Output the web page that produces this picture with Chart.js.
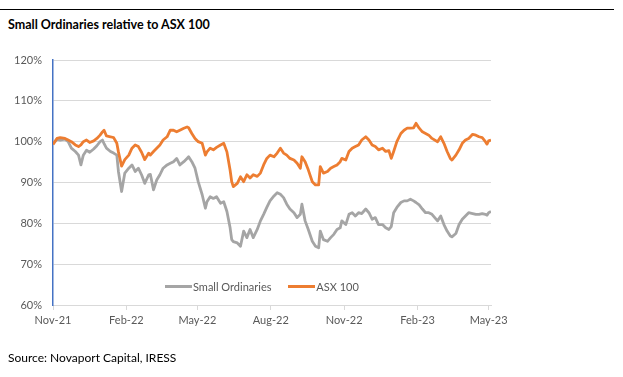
<!DOCTYPE html>
<html>
<head>
<meta charset="utf-8">
<title>Small Ordinaries relative to ASX 100</title>
<script src="https://cdn.jsdelivr.net/npm/chart.js@4.4.0/dist/chart.umd.min.js"></script>
<style>
  html, body { margin: 0; padding: 0; background: #fff; }
  body { width: 623px; height: 377px; position: relative; overflow: hidden; font-family: Lato, 'Open Sans', sans-serif; }
  #topRule { position: absolute; left: 0; top: 9px; width: 614px; height: 1px; background: #000; }
  #title { position: absolute; left: 8px; top: 17px; font-size: 12.5px; font-weight: bold; color: #000; white-space: nowrap; }
  #source { position: absolute; left: 8px; top: 350px; font-size: 12px; color: #000; white-space: nowrap; }
  #chart { position: absolute; left: 0; top: 0; }
  .legend { position: absolute; top: 277px; left: 165px; font-size: 11px; color: #595959; white-space: nowrap; }
  .legend span.item { display: inline-flex; align-items: center; margin-right: 14px; }
  .legend i { display: inline-block; width: 27px; height: 3px; margin-right: 1px; }
</style>
</head>
<body>
<div id="topRule"></div>
<div id="title">Small Ordinaries relative to ASX 100</div>
<canvas id="chart" width="623" height="377"></canvas>
<div class="legend" id="legend"></div>
<div id="source">Source: Novaport Capital, IRESS</div>

<script>
'use strict';
/* ============================================================
   Small Ordinaries vs ASX 100 — relative performance (Nov-21 = 100%)
   x = days since 1 Nov 2021
   ============================================================ */

const days = [
  0, 5, 9, 15, 19, 23, 28, 32, 35, 38,
  42, 46, 51, 55, 59, 62, 64, 67, 72, 76,
  80, 82, 86, 90, 95, 99, 103, 107, 111, 115,
  120, 122, 126, 130, 134, 138, 143, 147, 151, 155,
  159, 164, 168, 170, 174, 178, 182, 187, 191, 193,
  197, 201, 205, 210, 214, 218, 222, 224, 226, 231,
  235, 239, 243, 247, 251, 256, 260, 264, 268, 272,
  277, 281, 285, 289, 293, 297, 302, 306, 310, 312,
  316, 320, 325, 329, 333, 335, 339, 344, 348, 352,
  356, 360, 362, 367, 371, 375, 379, 383, 387, 392,
  396, 400, 404, 408, 413, 417, 421, 424, 427, 431,
  436, 440, 444, 448, 452, 455, 459, 463, 467, 471,
  475, 482, 486, 490, 494, 498, 500, 505, 509, 513,
  517, 521, 526, 530, 534, 538, 542, 544, 546, 549
];

const smallOrds = [
  99.5, 100.6, 100.4, 100.6, 100, 98.4, 97.6, 96.7, 94.3, 96.7,
  97.9, 97.4, 98.2, 99, 100, 100.4, 99.5, 98.4, 97.6, 97.2,
  96.7, 92.7, 87.8, 92.3, 93.5, 94.3, 92.7, 93.5, 91.9, 89.8,
  91.9, 92, 88.2, 90.6, 91.9, 93.5, 94.3, 94.7, 95.1, 95.9,
  94.3, 95.1, 95.9, 96.3, 95.1, 93.5, 90.2, 87, 83.7, 85.3,
  86.5, 86.1, 86.5, 84.9, 85.3, 82.9, 78.9, 76, 75.5, 75.2,
  74.4, 78.1, 76.5, 78.5, 76.5, 78.5, 80.6, 82.2, 83.9, 85.5,
  86.7, 87.5, 87.1, 86.3, 84.7, 83.5, 82.6, 81.4, 82.2, 84.7,
  80.6, 78.5, 75.6, 74.4, 74, 78.1, 76, 75.6, 76.5, 77.3,
  78.5, 78.9, 80.6, 79.7, 82.2, 82.6, 81.8, 82.6, 82.4, 83.5,
  82.6, 81, 81.4, 79.7, 79.7, 78.9, 78.5, 79.2, 82.6, 83.9,
  85.1, 85.5, 85.5, 85.9, 85.5, 85.1, 84.5, 83.5, 82.6, 82.6,
  82.2, 80.6, 81.8, 79.7, 78.1, 76.9, 76.7, 77.5, 79.7, 81,
  81.8, 82.6, 82.4, 82.2, 82.2, 82.4, 82.2, 82, 82.6, 82.9
];

const asx100 = [
  99.3, 100.8, 101, 100.8, 100.4, 100, 99.2, 98.8, 99.2, 100,
  100.4, 99.8, 100.2, 100.8, 101.6, 102.4, 102.8, 101.4, 101.2, 101,
  99.6, 97.5, 94, 95.6, 96.7, 98.4, 99.2, 98.8, 97.4, 95.6,
  97.2, 96.7, 97.6, 98.4, 99.2, 100.4, 101.2, 102.8, 102.8, 102.4,
  102.8, 103.3, 103.6, 103.4, 102, 100.8, 100, 99.6, 96.7, 97.5,
  98.4, 98, 98.6, 99.2, 99.6, 97.5, 93, 90.2, 89, 89.8,
  91.4, 90.2, 91.9, 91.1, 91.9, 91.5, 92.3, 94.3, 95.9, 96.7,
  96.3, 97.2, 98.4, 97.2, 96.7, 95.9, 95.5, 94.7, 93.5, 96.3,
  95.1, 93.1, 90.2, 89.4, 89.4, 93.9, 92.3, 92.7, 93.5, 93.9,
  94.3, 95.1, 95.9, 95.5, 97.6, 98.4, 98.8, 99.2, 100.4, 101.2,
  100.4, 99.2, 98.8, 98, 98.4, 97.6, 97.8, 95.9, 97.6, 100,
  102, 102.8, 103.3, 103.3, 103.4, 104.5, 103.3, 102.4, 102, 101.6,
  100.8, 100, 101.2, 99.6, 97.6, 95.9, 95.5, 96.7, 98, 99.6,
  100.4, 100.8, 101.8, 101.6, 101.2, 101, 100, 99.4, 100.2, 100.4
];

// quarterly ticks (days since 1 Nov 2021)
const tickDays   = [0, 92, 181, 273, 365, 457, 546];
const tickLabels = ['Nov-21', 'Feb-22', 'May-22', 'Aug-22', 'Nov-22', 'Feb-23', 'May-23'];

const yTicks = [60, 70, 80, 90, 100, 110, 120];

const SERIES = [
  { label: 'Small Ordinaries', data: smallOrds, color: '#A5A5A5', order: 2 },
  { label: 'ASX 100',          data: asx100,    color: '#ED7D31', order: 1 }
];

const TICK_FONT = { family: 'Lato', size: 11 };
const TICK_COLOR = '#595959';

// ── Legend (inside plot area, like Excel) ───────────────────
document.getElementById('legend').innerHTML = SERIES.map(s => `
  <span class="item"><i style="background:${s.color}"></i>${s.label}</span>
`).join('');

// ── Chart ───────────────────────────────────────────────────
new Chart(document.getElementById('chart').getContext('2d'), {
  type: 'line',
  data: {
    datasets: SERIES.map(s => ({
      label: s.label,
      data: days.map((d, i) => ({ x: d, y: s.data[i] })),
      borderColor: s.color,
      backgroundColor: s.color,
      borderWidth: 2.8,
      pointRadius: 0,
      tension: 0,
      borderJoinStyle: 'round',
      order: s.order
    }))
  },
  options: {
    responsive: false,
    animation: false,
    devicePixelRatio: 1,
    layout: { padding: { top: 60, right: 132, bottom: 0, left: 0 } },
    plugins: { legend: { display: false }, tooltip: { enabled: false } },
    scales: {
      x: {
        type: 'linear',
        min: 0,
        max: 549,
        afterBuildTicks: axis => { axis.ticks = tickDays.map(v => ({ value: v })); },
        afterFit: axis => { axis.height = 72; },
        ticks: {
          autoSkip: false,
          maxRotation: 0,
          padding: 4,
          color: TICK_COLOR,
          font: TICK_FONT,
          callback: v => tickLabels[tickDays.indexOf(v)]
        },
        grid: { drawOnChartArea: false, drawTicks: true, tickLength: 5, color: '#D9D9D9' },
        border: { color: '#D9D9D9', width: 1 }
      },
      y: {
        min: 60,
        max: 120,
        afterBuildTicks: axis => { axis.ticks = yTicks.map(v => ({ value: v })); },
        afterFit: axis => { axis.width = 53; },
        ticks: {
          padding: 11,
          color: TICK_COLOR,
          font: TICK_FONT,
          callback: v => v + '%'
        },
        grid: { drawTicks: false, color: '#D9D9D9', lineWidth: 1 },
        border: { color: '#4472C4', width: 1.5 }
      }
    }
  }
});
</script>
</body>
</html>
